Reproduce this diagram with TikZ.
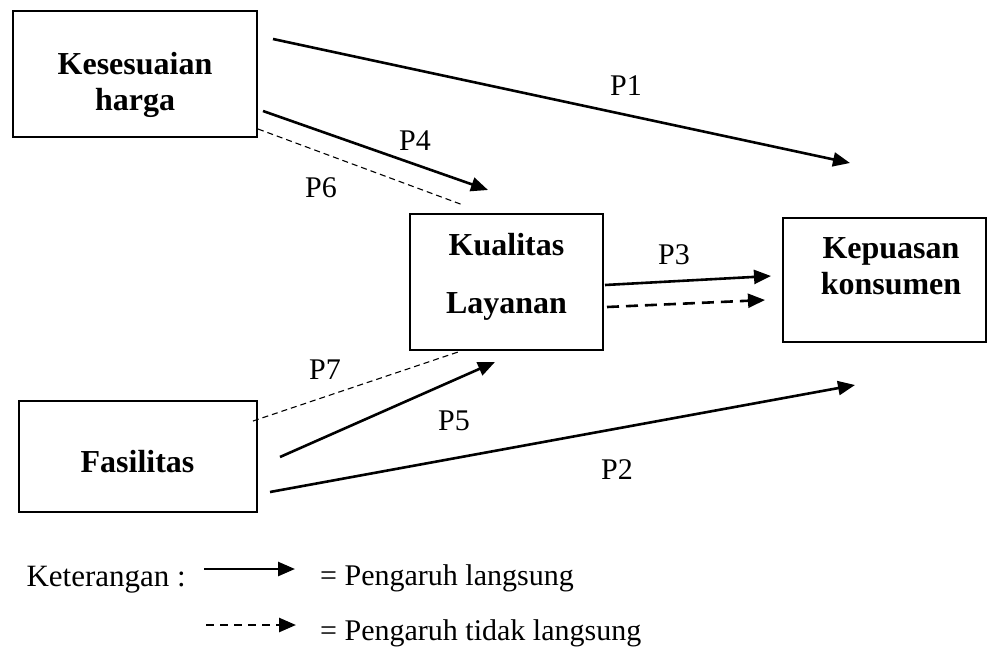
\documentclass[tikz,border=0pt]{standalone}
\usepackage{fontspec}
\setmainfont{Liberation Serif}
\usetikzlibrary{arrows.meta}

\begin{document}
\begin{tikzpicture}[x=1pt, y=-1pt,
    % Styles
    varbox/.style={draw=black, line width=2.4pt, inner sep=0pt},
    vartext/.style={font=\fontsize{32}{36}\selectfont\bfseries, align=center, inner sep=0pt},
    plabel/.style={font=\fontsize{30}{36}\selectfont, inner sep=0pt},
    direct-arrow/.style={-{Triangle[length=17pt, width=14pt]}, line width=2.6pt},
    indirect-arrow/.style={-{Triangle[length=17pt, width=14pt]}, line width=2.6pt, dash pattern=on 12pt off 7pt},
    indirect-line/.style={line width=1.1pt, dash pattern=on 6pt off 4pt},
]
\useasboundingbox (0,0) rectangle (989,646);

% Variables
\node[varbox, minimum width=244pt, minimum height=126pt] (harga) at (135,74) {};
\node[vartext] (harga-txt) at (135,85) {Kesesuaian\\harga};

\node[varbox, minimum width=193pt, minimum height=136pt] (kualitas) at (506.5,282) {};
\node[vartext] (kualitas-txt) at (506.5,276.5) {Kualitas\\[22pt]Layanan};

\node[varbox, minimum width=203pt, minimum height=124pt] (kepuasan) at (884.5,280) {};
\node[vartext] (kepuasan-txt) at (891,266.5) {Kepuasan\\konsumen};

\node[varbox, minimum width=238pt, minimum height=111pt] (fasilitas) at (138,456.5) {};
\node[vartext] (fasilitas-txt) at (137.5,462) {Fasilitas};

% Arrow end points
\coordinate (p1-a) at (273,39);   \coordinate (p1-b) at (850,163);
\coordinate (p4-a) at (263,111);  \coordinate (p4-b) at (488,190);
\coordinate (p6-a) at (258,129);  \coordinate (p6-b) at (463,205);
\coordinate (p3-a) at (605,285);  \coordinate (p3-b) at (771,276);
\coordinate (ind-a) at (607,307); \coordinate (ind-b) at (765,300);
\coordinate (p7-a) at (253,421);  \coordinate (p7-b) at (458,352);
\coordinate (p5-a) at (280,457);  \coordinate (p5-b) at (495,362);
\coordinate (p2-a) at (270,492);  \coordinate (p2-b) at (855,385);

% Paths
\draw[direct-arrow] (p1-a) -- (p1-b);
\draw[direct-arrow] (p4-a) -- (p4-b);
\draw[indirect-line] (p6-a) -- (p6-b);
\draw[direct-arrow] (p3-a) -- (p3-b);
\draw[indirect-arrow] (ind-a) -- (ind-b);
\draw[indirect-line] (p7-a) -- (p7-b);
\draw[direct-arrow] (p5-a) -- (p5-b);
\draw[direct-arrow] (p2-a) -- (p2-b);

% Path labels
\node[plabel] (lbl-p1) at (626,86) {P1};
\node[plabel] (lbl-p2) at (617,470) {P2};
\node[plabel] (lbl-p3) at (674,255) {P3};
\node[plabel] (lbl-p4) at (415,141) {P4};
\node[plabel] (lbl-p5) at (454,421) {P5};
\node[plabel] (lbl-p6) at (321,188) {P6};
\node[plabel] (lbl-p7) at (325,370) {P7};

% Legend
\node[plabel, font=\fontsize{31}{36}\selectfont, anchor=base east] (ket) at (186,586) {Keterangan :};
\coordinate (leg1-a) at (204,569); \coordinate (leg1-b) at (295,569);
\coordinate (leg2-a) at (206,625); \coordinate (leg2-b) at (296,625);
\draw[direct-arrow] (leg1-a) -- (leg1-b);
\draw[indirect-arrow, dash pattern=on 8pt off 6pt] (leg2-a) -- (leg2-b);
\node[plabel, anchor=base west] (leg1-txt) at (320,585) {= Pengaruh langsung};
\node[plabel, anchor=base west] (leg2-txt) at (320,640) {= Pengaruh tidak langsung};

\end{tikzpicture}
\end{document}
